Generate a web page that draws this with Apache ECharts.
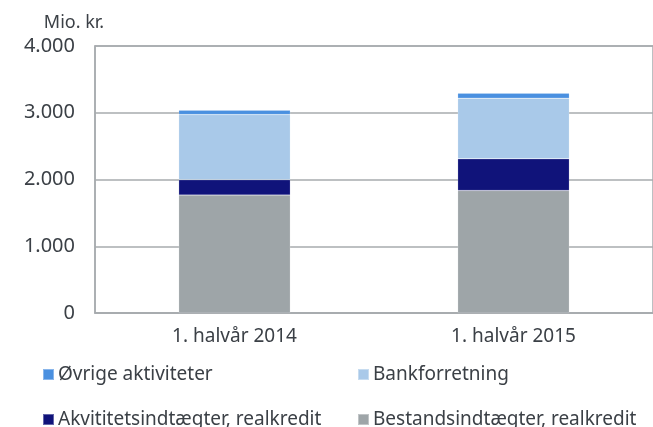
<!DOCTYPE html>
<html>
<head>
<meta charset="utf-8">
<script src="https://cdn.jsdelivr.net/npm/echarts@6/dist/echarts.min.js"></script>
<style>
  html, body { margin: 0; padding: 0; background: #fff; }
  #chart { width: 653px; height: 427px; }
</style>
</head>
<body>
<div id="chart"></div>
<script>
// data (mio. kr.)
const categories = ['1. halvår 2014', '1. halvår 2015'];
const bestand = [1766, 1835];
const akvitet = [230, 475];
const bank = [977, 909];
const ovrige = [66, 74];
const yTicks = [0, 1000, 2000, 3000, 4000];

const textColor = '#3b4046';
const gridColor = '#a7abae';
const font = 'Noto Sans';

const colors = {
  bestand: '#9ea5a8',
  akvitet: '#10137a',
  bank: '#a9c9e9',
  ovrige: '#4a90e0'
};

function fmt(v) {
  return v === 0 ? '0' : (v / 1000).toFixed(3);
}

function bar(name, data, color) {
  return {
    name: name,
    type: 'bar',
    stack: 'total',
    barWidth: '40%',
    data: data,
    itemStyle: { color: color, borderColor: 'rgba(255,255,255,0.35)', borderWidth: 0.5 }
  };
}

function legendAt(name, left, top) {
  return {
    data: [name],
    left: left,
    top: top,
    itemWidth: 11,
    itemHeight: 11,
    itemGap: 4,
    icon: 'rect',
    textStyle: { color: textColor, fontSize: 19, fontFamily: font, padding: [0, 0, 0, -1] }
  };
}

const chart = echarts.init(document.getElementById('chart'));
chart.setOption({
  animation: false,
  backgroundColor: '#fff',
  grid: {
    left: 95, right: -2, top: 46, bottom: 114,
    show: true, borderColor: gridColor, borderWidth: 1.5
  },
  legend: [
    legendAt('Øvrige aktiviteter', 37, 360),
    legendAt('Bankforretning', 352, 360),
    legendAt('Akvititetsindtægter, realkredit', 37, 405),
    legendAt('Bestandsindtægter, realkredit', 352, 405)
  ],
  xAxis: {
    type: 'category',
    data: categories,
    axisLine: { lineStyle: { color: gridColor, width: 1.5 } },
    axisTick: { show: false },
    axisLabel: { color: textColor, fontSize: 19, fontFamily: font, margin: 14 }
  },
  yAxis: {
    type: 'value',
    name: 'Mio. kr.',
    nameLocation: 'end',
    nameGap: 14,
    nameTextStyle: { color: textColor, fontSize: 18, fontFamily: font, align: 'center', padding: [0, 0, 0, -42] },
    min: yTicks[0],
    max: yTicks[yTicks.length - 1],
    interval: 1000,
    axisLine: { show: true, lineStyle: { color: gridColor, width: 1.5 } },
    axisTick: { show: false },
    splitLine: { lineStyle: { color: gridColor, width: 1.5 } },
    axisLabel: { color: textColor, fontSize: 20, fontFamily: font, margin: 20, formatter: fmt }
  },
  series: [
    bar('Bestandsindtægter, realkredit', bestand, colors.bestand),
    bar('Akvititetsindtægter, realkredit', akvitet, colors.akvitet),
    bar('Bankforretning', bank, colors.bank),
    bar('Øvrige aktiviteter', ovrige, colors.ovrige)
  ]
});
</script>
</body>
</html>
